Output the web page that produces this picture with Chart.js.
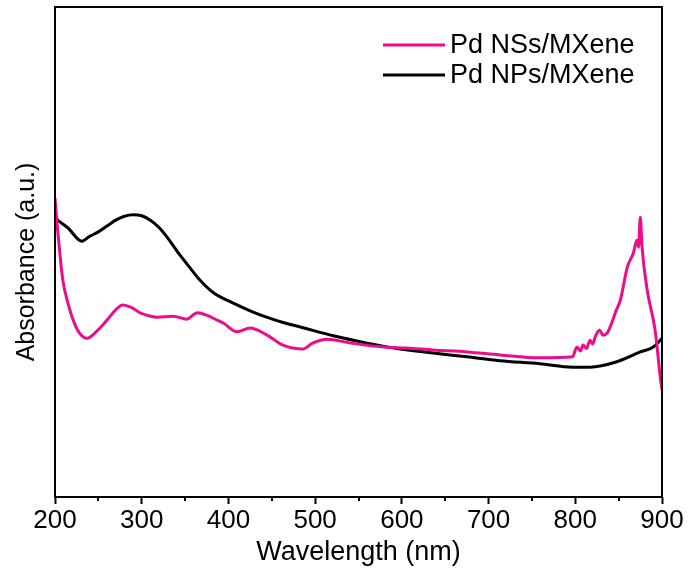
<!DOCTYPE html>
<html>
<head>
<meta charset="utf-8">
<script src="https://cdn.jsdelivr.net/npm/chart.js@4"></script>
<style>
  html, body { margin: 0; padding: 0; background: #fff; }
  #wrap { width: 690px; height: 575px; }
</style>
</head>
<body>
<div id="wrap"><canvas id="uv"></canvas></div>
<script>
// UV-vis 吸收谱，纵轴为任意单位（0..1 对应图框底到顶）
const nssX = [200,203,206,209,215,221,228,237,248,260,270,278,288,298,308,318,336,352,364,375,387,394,410,425,444,463,486,497,514,541,579,606,636,675,713,759,797,800,802,806,809,813,817,820,823,828,832,837,842,847,852,860,867,871,873,875,877,883,892,898,900];
const nssY = [0.610,0.545,0.490,0.443,0.395,0.361,0.335,0.324,0.338,0.361,0.382,0.392,0.387,0.376,0.370,0.367,0.369,0.363,0.376,0.371,0.361,0.355,0.337,0.345,0.331,0.310,0.302,0.314,0.322,0.314,0.306,0.304,0.300,0.296,0.290,0.284,0.286,0.300,0.306,0.298,0.310,0.303,0.320,0.312,0.327,0.341,0.330,0.335,0.355,0.380,0.402,0.469,0.498,0.524,0.510,0.571,0.510,0.422,0.341,0.245,0.218];

const npsX = [200,203,206,215,231,240,250,260,270,280,290,300,310,320,329,344,356,367,382,405,425,444,463,483,521,560,598,636,675,713,759,797,817,848,875,890,898,900];
const npsY = [0.575,0.565,0.561,0.549,0.522,0.532,0.541,0.553,0.565,0.573,0.576,0.574,0.565,0.550,0.531,0.494,0.467,0.443,0.418,0.396,0.380,0.367,0.356,0.347,0.329,0.314,0.302,0.294,0.286,0.278,0.272,0.265,0.265,0.276,0.296,0.306,0.320,0.324];

const seriesNames = ['Pd NSs/MXene', 'Pd NPs/MXene'];
const xTicks = [200,300,400,500,600,700,800,900];
const xMinor = [250,350,450,550,650,750,850];

const PINK = '#ec0c8c';
const FONT = "'Liberation Sans', Arial, sans-serif";

const pts = (xs, ys) => xs.map((x, i) => ({x, y: ys[i]}));

// 图框 + 次刻度 + 纵轴标题 + 图例
const framePlugin = {
  id: 'frame',
  afterDraw(chart) {
    const {ctx, chartArea: a, scales} = chart;
    ctx.save();
    ctx.strokeStyle = '#000';
    ctx.lineWidth = 2;
    ctx.strokeRect(a.left, a.top, a.right - a.left, a.bottom - a.top);
    // minor ticks
    ctx.beginPath();
    xMinor.forEach(v => {
      const px = Math.round(scales.x.getPixelForValue(v));
      ctx.moveTo(px, a.bottom);
      ctx.lineTo(px, a.bottom + 4);
    });
    ctx.stroke();
    // y title
    ctx.save();
    ctx.translate(27, 262);
    ctx.rotate(-Math.PI / 2);
    ctx.font = '25px ' + FONT;
    ctx.fillStyle = '#000';
    ctx.textAlign = 'center';
    ctx.textBaseline = 'middle';
    ctx.fillText('Absorbance (a.u.)', 0, 0);
    ctx.restore();
    // legend
    ctx.font = '27px ' + FONT;
    ctx.textBaseline = 'middle';
    ctx.fillStyle = '#000';
    chart.data.datasets.forEach((ds, i) => {
      const y = 45 + i * 30;
      ctx.strokeStyle = ds.borderColor;
      ctx.lineWidth = 3;
      ctx.beginPath();
      ctx.moveTo(383, y);
      ctx.lineTo(445, y);
      ctx.stroke();
      ctx.fillText(ds.label, 450, y + 1);
    });
    ctx.restore();
  }
};

new Chart(document.getElementById('uv'), {
  type: 'line',
  data: {
    datasets: [
      {label: seriesNames[0], data: pts(nssX, nssY), borderColor: PINK, borderWidth: 3},
      {label: seriesNames[1], data: pts(npsX, npsY), borderColor: '#000', borderWidth: 3}
    ]
  },
  options: {
    responsive: true,
    maintainAspectRatio: false,
    animation: false,
    layout: {padding: {top: 7, right: 28, left: 0, bottom: 0}},
    elements: {point: {radius: 0}, line: {cubicInterpolationMode: 'monotone'}},
    plugins: {legend: {display: false}, tooltip: {enabled: false}},
    scales: {
      x: {
        type: 'linear',
        min: 200, max: 900,
        afterBuildTicks: s => { s.ticks = xTicks.map(v => ({value: v})); },
        afterFit: s => { s.height = 78; },
        grid: {drawOnChartArea: false, drawTicks: true, tickLength: 7, tickWidth: 2, tickColor: '#000'},
        border: {display: false},
        ticks: {color: '#000', font: {family: FONT, size: 26}, padding: 1, maxRotation: 0},
        title: {display: true, text: 'Wavelength (nm)', color: '#000', font: {family: FONT, size: 27}, padding: {top: 0, bottom: 6}}
      },
      y: {
        min: 0, max: 1,
        afterFit: s => { s.width = 55; },
        grid: {display: false},
        border: {display: false},
        ticks: {display: false},
        title: {display: false}
      }
    }
  },
  plugins: [framePlugin]
});
</script>
</body>
</html>
